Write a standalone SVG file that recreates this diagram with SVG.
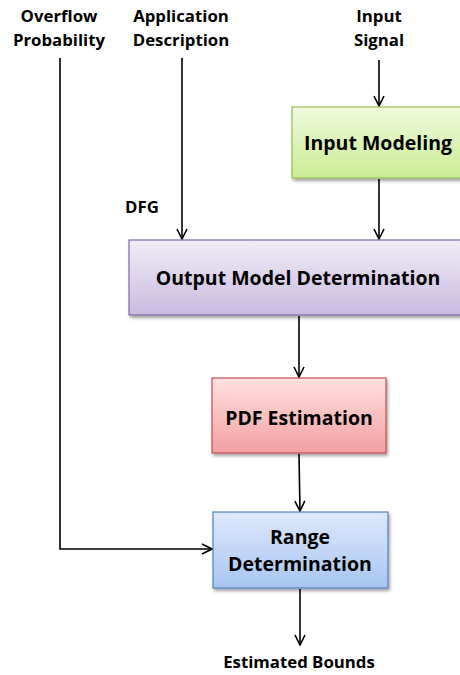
<svg xmlns="http://www.w3.org/2000/svg" width="460" height="675" viewBox="0 0 460 675">
<defs>
<style>
text{font-family:"Open Sans","Liberation Sans",Arial,sans-serif;font-weight:bold;fill:#000;text-anchor:middle}
.lbl{font-size:16.8px}
.box{font-size:19.5px}
.conn{fill:none;stroke:#000;stroke-width:1.6;marker-end:url(#arr)}
</style>
<marker id="arr" viewBox="0 0 12 12" refX="11" refY="6" markerWidth="12" markerHeight="12" markerUnits="userSpaceOnUse" orient="auto">
<path d="M1,1 L11,6 L1,11" fill="none" stroke="#000" stroke-width="1.6"/>
</marker>
<filter id="sh" x="-10%" y="-10%" width="130%" height="140%">
<feDropShadow dx="1.5" dy="2.5" stdDeviation="1.5" flood-color="#000" flood-opacity="0.35"/>
</filter>
<linearGradient id="gG" x1="0" y1="0" x2="0" y2="1"><stop offset="0" stop-color="#f0fadf"/><stop offset="1" stop-color="#c9ec92"/></linearGradient>
<linearGradient id="gP" x1="0" y1="0" x2="0" y2="1"><stop offset="0" stop-color="#f1ecf7"/><stop offset="1" stop-color="#c9bbe0"/></linearGradient>
<linearGradient id="gR" x1="0" y1="0" x2="0" y2="1"><stop offset="0" stop-color="#ffe0e0"/><stop offset="1" stop-color="#f3a0a0"/></linearGradient>
<linearGradient id="gB" x1="0" y1="0" x2="0" y2="1"><stop offset="0" stop-color="#dde9fb"/><stop offset="1" stop-color="#a7c5f0"/></linearGradient>
</defs>

<g id="connectors">
<path class="conn" d="M379,60 V106"/>
<path class="conn" d="M379,179 V239"/>
<path class="conn" d="M182,58 V239"/>
<path class="conn" d="M60,58 V549 H212"/>
<path class="conn" d="M299,316 V377"/>
<path class="conn" d="M299,454 L300,511"/>
<path class="conn" d="M300,589 V645"/>
</g>

<g id="overflow-probability">
<text class="lbl" x="59" y="22">Overflow</text>
<text class="lbl" x="59" y="46">Probability</text>
</g>
<g id="application-description">
<text class="lbl" x="181" y="22">Application</text>
<text class="lbl" x="181" y="46">Description</text>
</g>
<g id="input-signal">
<text class="lbl" x="379" y="22">Input</text>
<text class="lbl" x="379" y="46">Signal</text>
</g>
<g id="dfg">
<text class="lbl" x="142" y="213">DFG</text>
</g>

<g id="input-modeling">
<rect x="292" y="107" width="172" height="71" fill="url(#gG)" stroke="#98b954" stroke-width="1.2" filter="url(#sh)"/>
<text class="box" x="378" y="150">Input Modeling</text>
</g>
<g id="output-model-determination">
<rect x="129" y="240" width="335" height="75" fill="url(#gP)" stroke="#8468a6" stroke-width="1.2" filter="url(#sh)"/>
<text class="box" x="298" y="285">Output Model Determination</text>
</g>
<g id="pdf-estimation">
<rect x="212" y="378" width="174" height="75" fill="url(#gR)" stroke="#c0504d" stroke-width="1.2" filter="url(#sh)"/>
<text class="box" x="299" y="425">PDF Estimation</text>
</g>
<g id="range-determination">
<rect x="213" y="512" width="175" height="76" fill="url(#gB)" stroke="#4f81bd" stroke-width="1.2" filter="url(#sh)"/>
<text class="box" x="300" y="544">Range</text>
<text class="box" x="300" y="571">Determination</text>
</g>
<g id="estimated-bounds">
<text class="lbl" x="299" y="668">Estimated Bounds</text>
</g>
</svg>
